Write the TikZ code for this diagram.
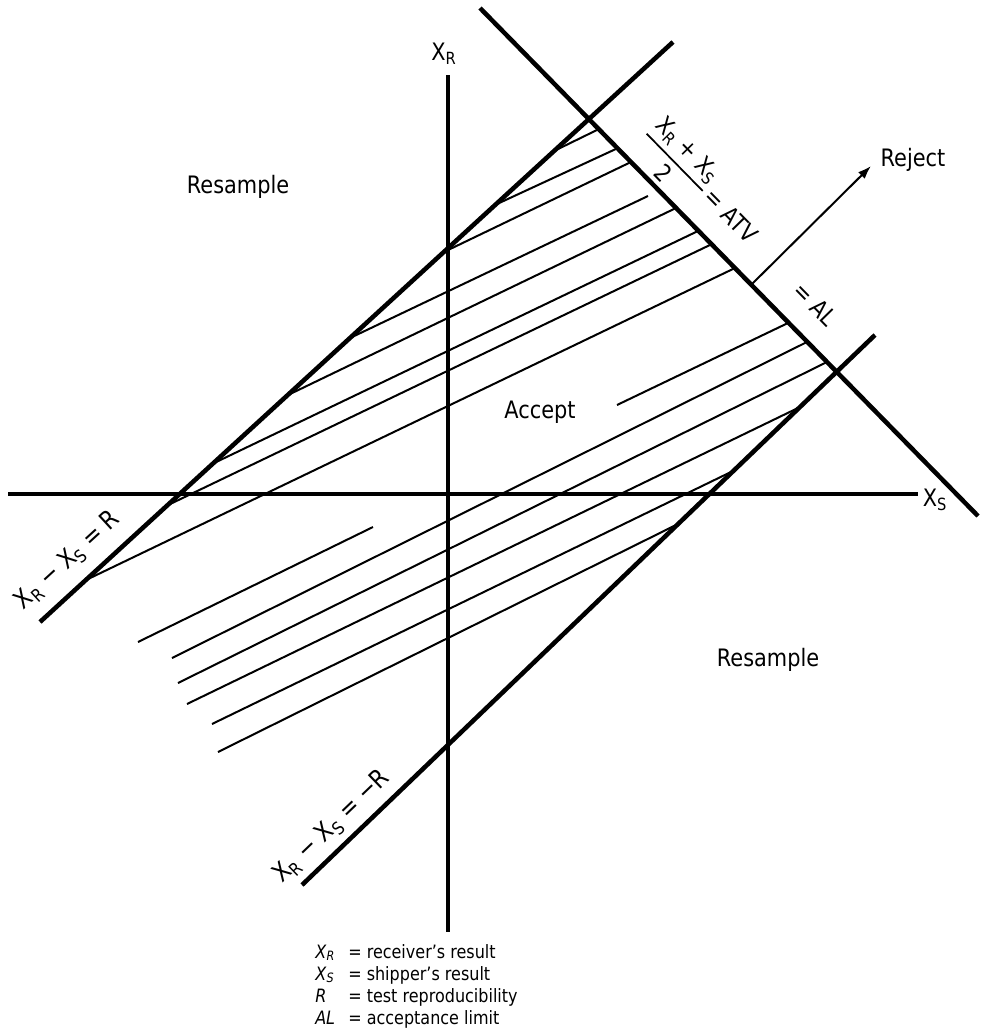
\documentclass[tikz,border=0pt]{standalone}
\usepackage{amsmath}
\usepackage{fontspec}
\setmainfont{DejaVu Sans}[FakeStretch=0.87]
\usetikzlibrary{arrows.meta}
\newcommand{\subx}[2]{#1\textsubscript{#2}}
\begin{document}
\begin{tikzpicture}[x=0.75pt,y=-0.75pt,
  thickline/.style={line width=3.4pt},
  hatch/.style={line width=1.5pt},
  lbl/.style={font=\fontsize{18}{21}\selectfont, inner sep=0pt},
  rlbl/.style={font=\fontsize{19}{22}\selectfont, inner sep=0pt},
  legendtxt/.style={font=\fontsize{13.8}{16.5}\selectfont, inner sep=0pt, anchor=base west}]
\useasboundingbox (0,0) rectangle (981,1033);

% coordinates of the main lines
\coordinate (H1) at (8,494);   \coordinate (H2) at (918,494);
\coordinate (V1) at (448,75);  \coordinate (V2) at (448,932);
\coordinate (U1) at (40,622);  \coordinate (U2) at (673,42);
\coordinate (L1) at (302,885); \coordinate (L2) at (875,335);
\coordinate (A1) at (480,8);   \coordinate (A2) at (978,516);
\coordinate (rs) at (752,284); \coordinate (re) at (871,166);

% hatching
\foreach \a/\b in {
  {(554,151)}/{(599,129)},
  {(497,204)}/{(618,148)},
  {(446,251)}/{(631,162)},
  {(350,338)}/{(648,196)},
  {(288,395)}/{(676,208)},
  {(212,464)}/{(698,231)},
  {(166,506)}/{(712,244)},
  {(86,580)}/{(735,268)},
  {(617,405)}/{(788,323)},
  {(138,642)}/{(373,527)},
  {(172,658)}/{(807,342)},
  {(178,683)}/{(827,362)},
  {(187,704)}/{(800,407)},
  {(212,724)}/{(733,471)},
  {(218,752)}/{(678,524)}}
  \draw[hatch] \a -- \b;

% main lines
\draw[thickline] (H1) -- (H2);
\draw[thickline] (V1) -- (V2);
\draw[thickline] (U1) -- (U2);
\draw[thickline] (L1) -- (L2);
\draw[thickline] (A1) -- (A2);
\draw[line width=1.5pt, -{Latex[length=10pt,width=7pt]}] (rs) -- (re);

% labels
\node[lbl] (xr) at (444,54) {\subx{X}{R}};
\node[lbl] (xs) at (935,500) {\subx{X}{S}};
\node[lbl] (rej) at (913,160) {Reject};
\node[lbl] (rs1) at (238,187) {Resample};
\node[lbl] (rs2) at (768,660) {Resample};
\node[lbl] (acc) at (540,412) {Accept};
\node[rlbl, rotate=42.5] (lblR) at (68,561) {\subx{X}{R} − \subx{X}{S} = R};
\node[rlbl, rotate=43.8] (lblmR) at (332,827) {\subx{X}{R} − \subx{X}{S} = −R};
\node[lbl, rotate=-45.6] (atv) at (700,185)
  {$\genfrac{}{}{1.3pt}{0}{\mbox{\subx{X}{R} + \subx{X}{S}}}{\mbox{2}}$\,= ATV};
\node[lbl, rotate=-45.6] (al) at (815,304) {= AL};

% legend
\node[legendtxt] (leg1) at (315,958) {\makebox[24.75pt][l]{\textit{X}\textsubscript{\textit{R}}}= receiver’s result};
\node[legendtxt] (leg2) at (315,980) {\makebox[24.75pt][l]{\textit{X}\textsubscript{\textit{S}}}= shipper’s result};
\node[legendtxt] (leg3) at (315,1002) {\makebox[24.75pt][l]{\textit{R}}= test reproducibility};
\node[legendtxt] (leg4) at (315,1024) {\makebox[24.75pt][l]{\textit{AL}}= acceptance limit};
\end{tikzpicture}
\end{document}
